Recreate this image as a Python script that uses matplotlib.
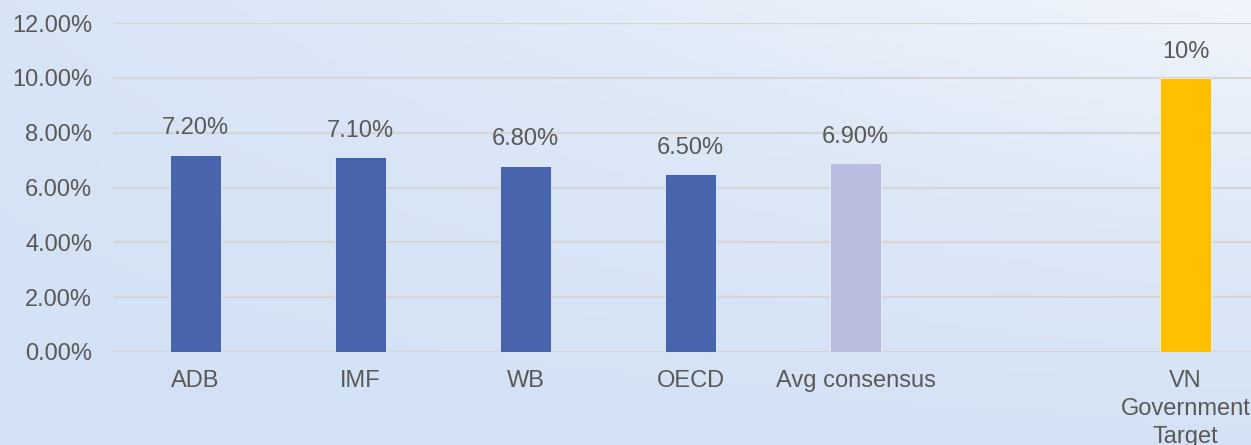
import numpy as np
import matplotlib
matplotlib.use("Agg")
import matplotlib.pyplot as plt
from matplotlib.colors import LinearSegmentedColormap

# ---------------- data ----------------
categories = ["ADB", "IMF", "WB", "OECD", "Avg consensus", "", "VN\nGovernment\nTarget"]
growth = [7.2, 7.1, 6.8, 6.5, 6.9, np.nan, 10.0]
value_labels = ["7.20%", "7.10%", "6.80%", "6.50%", "6.90%", "", "10%"]
bar_colors = ["#4864AC", "#4864AC", "#4864AC", "#4864AC", "#BBBDE0", "#FFFFFF", "#FFC000"]
yticks = [0, 2, 4, 6, 8, 10, 12]

plt.rcParams["font.family"] = ["Liberation Sans", "DejaVu Sans"]
txt = "#595959"
fs = 17

fig = plt.figure(figsize=(12.51, 4.45), dpi=100)

# pale blue background (stands in for the photo behind the chart)
bg = fig.add_axes([0, 0, 1, 1], zorder=-10)
gx, gy = np.meshgrid(np.linspace(0, 1, 200), np.linspace(0, 1, 80))
shade = 0.55 * gx * (1 - gy) + 0.25 * (1 - gy) + 0.1 * gx
cm = LinearSegmentedColormap.from_list("bgc", ["#D2E1F5", "#DDE8F7", "#F1F5FC"])
bg.imshow(shade, cmap=cm, aspect="auto", extent=[0, 1, 0, 1], origin="upper")
bg.axis("off")

ax = fig.add_axes([113 / 1251, 93 / 445, 7 * 165 / 1251, 329 / 445])
ax.patch.set_alpha(0)
x = np.arange(len(categories))
ax.bar(x, growth, width=0.31, color=bar_colors, edgecolor="#E8EEF8", linewidth=0.6, zorder=3)

for xi, v, lab in zip(x, growth, value_labels):
    if lab:
        ax.annotate(lab, (xi, v), xytext=(0, 11), textcoords="offset points",
                    ha="center", va="bottom", fontsize=fs, color=txt)

ax.set_xlim(-0.5, len(categories) - 0.5)
ax.set_ylim(0, 12)
ax.set_yticks(yticks)
ax.set_yticklabels([f"{t:.2f}%" for t in yticks])
ax.set_xticks(x)
ax.set_xticklabels(categories)
for t in ax.get_xticklabels():
    t.set_linespacing(1.35)
ax.tick_params(axis="y", length=0, pad=15, labelsize=fs, labelcolor=txt)
ax.tick_params(axis="x", length=0, pad=13, labelsize=fs, labelcolor=txt)
ax.grid(axis="y", color="#D6D6D6", linewidth=1.6, zorder=0)
ax.set_axisbelow(True)
for s in ax.spines.values():
    s.set_visible(False)

fig.savefig("out.png", dpi=100)
